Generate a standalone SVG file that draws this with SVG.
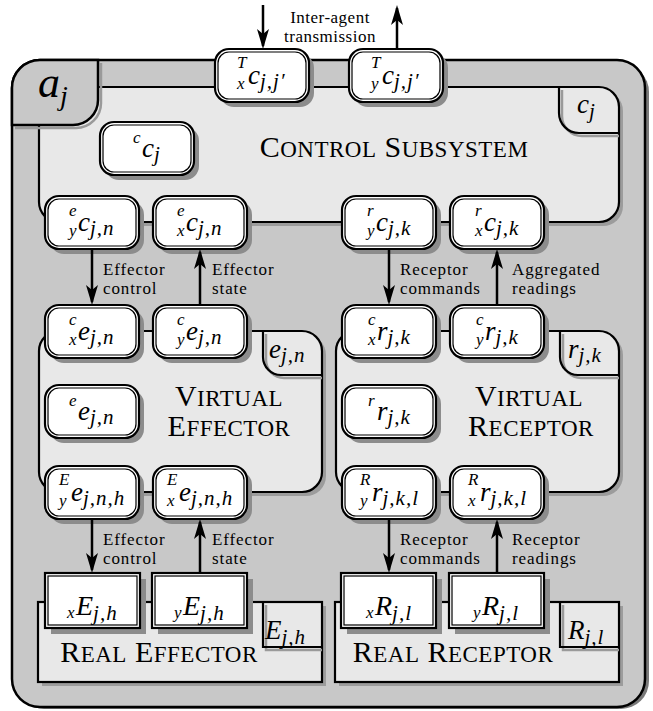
<svg xmlns="http://www.w3.org/2000/svg" xmlns:xlink="http://www.w3.org/1999/xlink" width="653" height="711" viewBox="0 0 653 711">
<style>
.outer{fill:#c8c8c8;stroke:#000;stroke-width:2.5}
.box{fill:#e8e8e8;stroke:#000;stroke-width:2.2}
.tab{fill:none;stroke:#000;stroke-width:2.2}
.tabs{fill:none;stroke:#9a9a9a;stroke-width:2.5}
.bshd{fill:#9c9c9c}
.shd{fill:#8c8c8c}
.no{fill:#fff;stroke:#000;stroke-width:2.2}
.ni{fill:#fff;stroke:#000;stroke-width:1.2}
.m{font-family:"Liberation Serif",serif;font-style:italic;font-size:27px;fill:#000}
.s{font-size:21px;letter-spacing:1px}
.p{font-size:17px;letter-spacing:0}
.lbl{font-family:"Liberation Serif",serif;font-size:17px;fill:#000;letter-spacing:0.9px}
.big{font-family:"Liberation Serif",serif;font-size:30px;fill:#000;letter-spacing:0.5px}
.sc{font-size:23px}
.arr{stroke:#000;stroke-width:2.5;fill:none;marker-end:url(#ah)}
</style>
<defs>
<marker id="ah" viewBox="0 0 20 12" refX="17" refY="6" markerWidth="20" markerHeight="12" markerUnits="userSpaceOnUse" orient="auto">
<path d="M0,0 L20,6 L0,12 L5,6 Z" fill="#000"/>
</marker>
<g id="rnode">
<rect x="5" y="5" width="94" height="53" rx="14" class="shd"/>
<rect width="94" height="53" rx="14" class="no"/>
<rect x="3" y="3" width="88" height="47" rx="11" class="ni"/>
</g>
<g id="snode">
<rect x="6" y="6" width="95" height="55" class="shd"/>
<rect width="95" height="55" class="no"/>
<rect x="3" y="3" width="89" height="49" class="ni"/>
</g>
</defs>

<!-- Agent a_j -->
<g id="agent">
<rect x="16" y="64" width="633" height="645" rx="28" fill="#7a7a7a"/>
<rect x="12" y="60" width="633" height="647" rx="28" class="outer"/>
</g>

<!-- Control subsystem -->
<g id="control-subsystem">
<rect x="43" y="91" width="580" height="135" rx="20" class="bshd"/>
<rect x="39" y="87" width="580" height="135" rx="20" class="box"/>
<path d="M562,90 V116 A20,20 0 0 0 582,136 H619" class="tabs"/>
<path d="M559,87 V113 A20,20 0 0 0 579,133 H619" class="tab"/>
<text class="m" x="577" y="113">c<tspan class="s" dy="5">j</tspan></text>
<text class="big" x="394" y="157" text-anchor="middle">C<tspan class="sc">ONTROL</tspan> S<tspan class="sc">UBSYSTEM</tspan></text>
</g>

<!-- a_j tab -->
<g id="agent-tab">
<path d="M15,128 H76 A25,25 0 0 0 101,103 V63" class="tabs"/>
<path d="M12,125 H73 A25,25 0 0 0 98,100 V60 H40 A28,28 0 0 0 12,88 Z" class="outer"/>
<text class="m" x="38" y="97" style="font-size:44px">a<tspan style="font-size:28px" dy="8">j</tspan></text>
</g>

<!-- Virtual effector -->
<g id="virtual-effector">
<rect x="43" y="335" width="283" height="161" rx="20" class="bshd"/>
<rect x="39" y="331" width="283" height="161" rx="20" class="box"/>
<path d="M266,334 V360 A18,18 0 0 0 284,378 H322" class="tabs"/>
<path d="M263,331 V357 A18,18 0 0 0 281,375 H322" class="tab"/>
<text class="m" x="269" y="358">e<tspan class="s" dy="4">j,n</tspan></text>
<text class="big" text-anchor="middle"><tspan x="229" y="406">V<tspan class="sc">IRTUAL</tspan></tspan><tspan x="229" y="436">E<tspan class="sc">FFECTOR</tspan></tspan></text>
</g>

<!-- Virtual receptor -->
<g id="virtual-receptor">
<rect x="340" y="335" width="283" height="161" rx="20" class="bshd"/>
<rect x="336" y="331" width="283" height="161" rx="20" class="box"/>
<path d="M563,334 V360 A18,18 0 0 0 581,378 H619" class="tabs"/>
<path d="M560,331 V357 A18,18 0 0 0 578,375 H619" class="tab"/>
<text class="m" x="568" y="358">r<tspan class="s" dy="4">j,k</tspan></text>
<text class="big" text-anchor="middle"><tspan x="529" y="406">V<tspan class="sc">IRTUAL</tspan></tspan><tspan x="531" y="436">R<tspan class="sc">ECEPTOR</tspan></tspan></text>
</g>

<!-- Real effector -->
<g id="real-effector">
<rect x="42" y="606" width="284" height="80" class="bshd"/>
<rect x="38" y="602" width="284" height="80" class="box"/>
<path d="M266,605 V650 H322" class="tabs"/>
<path d="M263,602 V647 H322" class="tab"/>
<text class="m" x="265" y="639">E<tspan class="s" dy="5">j,h</tspan></text>
<text class="big" x="159" y="662" text-anchor="middle">R<tspan class="sc">EAL</tspan> E<tspan class="sc">FFECTOR</tspan></text>
</g>

<!-- Real receptor -->
<g id="real-receptor">
<rect x="339" y="606" width="284" height="80" class="bshd"/>
<rect x="335" y="602" width="284" height="80" class="box"/>
<path d="M563,605 V650 H619" class="tabs"/>
<path d="M560,602 V647 H619" class="tab"/>
<text class="m" x="568" y="639">R<tspan class="s" dy="5">j,l</tspan></text>
<text class="big" x="453" y="662" text-anchor="middle">R<tspan class="sc">EAL</tspan> R<tspan class="sc">ECEPTOR</tspan></text>
</g>

<!-- Nodes -->
<g id="n-Txc"><use xlink:href="#rnode" x="215" y="49"/>
<text class="m"><tspan class="p" x="237" y="67.5">T</tspan><tspan class="p" x="237" y="89">x</tspan><tspan x="248" y="84">c</tspan><tspan class="s" dy="4">j,j′</tspan></text></g>

<g id="n-Tyc"><use xlink:href="#rnode" x="349" y="49"/>
<text class="m"><tspan class="p" x="371" y="67.5">T</tspan><tspan class="p" x="371" y="89">y</tspan><tspan x="382" y="84">c</tspan><tspan class="s" dy="4">j,j′</tspan></text></g>

<g id="n-cc"><use xlink:href="#rnode" x="100" y="122"/>
<text class="m"><tspan class="p" x="133" y="142.5">c</tspan><tspan x="142" y="156.5">c</tspan><tspan class="s" dy="4">j</tspan></text></g>

<g id="n-eyc"><use xlink:href="#rnode" x="45" y="196"/>
<text class="m"><tspan class="p" x="69" y="215.5">e</tspan><tspan class="p" x="69" y="235.5">y</tspan><tspan x="78" y="230.5">c</tspan><tspan class="s" dy="4">j,n</tspan></text></g>

<g id="n-exc"><use xlink:href="#rnode" x="153" y="196"/>
<text class="m"><tspan class="p" x="177" y="215.5">e</tspan><tspan class="p" x="177" y="235.5">x</tspan><tspan x="186" y="230.5">c</tspan><tspan class="s" dy="4">j,n</tspan></text></g>

<g id="n-ryc"><use xlink:href="#rnode" x="342" y="196"/>
<text class="m"><tspan class="p" x="367" y="215.5">r</tspan><tspan class="p" x="367" y="235.5">y</tspan><tspan x="376" y="230.5">c</tspan><tspan class="s" dy="4">j,k</tspan></text></g>

<g id="n-rxc"><use xlink:href="#rnode" x="450" y="196"/>
<text class="m"><tspan class="p" x="475" y="215.5">r</tspan><tspan class="p" x="475" y="235.5">x</tspan><tspan x="484" y="230.5">c</tspan><tspan class="s" dy="4">j,k</tspan></text></g>

<g id="n-cxe"><use xlink:href="#rnode" x="45" y="305"/>
<text class="m"><tspan class="p" x="69" y="324.5">c</tspan><tspan class="p" x="69" y="344.5">x</tspan><tspan x="78" y="339.5">e</tspan><tspan class="s" dy="4">j,n</tspan></text></g>

<g id="n-cye"><use xlink:href="#rnode" x="153" y="305"/>
<text class="m"><tspan class="p" x="177" y="324.5">c</tspan><tspan class="p" x="177" y="344.5">y</tspan><tspan x="186" y="339.5">e</tspan><tspan class="s" dy="4">j,n</tspan></text></g>

<g id="n-cxr"><use xlink:href="#rnode" x="342" y="305"/>
<text class="m"><tspan class="p" x="368" y="324.5">c</tspan><tspan class="p" x="368" y="344.5">x</tspan><tspan x="377" y="339.5">r</tspan><tspan class="s" dy="4">j,k</tspan></text></g>

<g id="n-cyr"><use xlink:href="#rnode" x="450" y="305"/>
<text class="m"><tspan class="p" x="476" y="324.5">c</tspan><tspan class="p" x="476" y="344.5">y</tspan><tspan x="485" y="339.5">r</tspan><tspan class="s" dy="4">j,k</tspan></text></g>

<g id="n-ee"><use xlink:href="#rnode" x="45" y="385"/>
<text class="m"><tspan class="p" x="69" y="405.5">e</tspan><tspan x="78" y="419.5">e</tspan><tspan class="s" dy="4">j,n</tspan></text></g>

<g id="n-rr"><use xlink:href="#rnode" x="342" y="385"/>
<text class="m"><tspan class="p" x="368" y="405.5">r</tspan><tspan x="377" y="419.5">r</tspan><tspan class="s" dy="4">j,k</tspan></text></g>

<g id="n-Eye"><use xlink:href="#rnode" x="45" y="466"/>
<text class="m"><tspan class="p" x="59" y="484.5">E</tspan><tspan class="p" x="59" y="506">y</tspan><tspan x="71" y="500.5">e</tspan><tspan class="s" dy="4">j,n,h</tspan></text></g>

<g id="n-Exe"><use xlink:href="#rnode" x="153" y="466"/>
<text class="m"><tspan class="p" x="167" y="484.5">E</tspan><tspan class="p" x="167" y="506">x</tspan><tspan x="179" y="500.5">e</tspan><tspan class="s" dy="4">j,n,h</tspan></text></g>

<g id="n-Ryr"><use xlink:href="#rnode" x="342" y="466"/>
<text class="m"><tspan class="p" x="360" y="484.5">R</tspan><tspan class="p" x="360" y="506">y</tspan><tspan x="372" y="500.5">r</tspan><tspan class="s" dy="4">j,k,l</tspan></text></g>

<g id="n-Rxr"><use xlink:href="#rnode" x="450" y="466"/>
<text class="m"><tspan class="p" x="468" y="484.5">R</tspan><tspan class="p" x="468" y="506">x</tspan><tspan x="480" y="500.5">r</tspan><tspan class="s" dy="4">j,k,l</tspan></text></g>

<g id="n-xE"><use xlink:href="#snode" x="45" y="573"/>
<text class="m" style="font-size:28px"><tspan class="p" x="67" y="618">x</tspan><tspan x="76" y="615">E</tspan><tspan class="s" dy="5">j,h</tspan></text></g>

<g id="n-yE"><use xlink:href="#snode" x="152" y="573"/>
<text class="m" style="font-size:28px"><tspan class="p" x="174" y="618">y</tspan><tspan x="183" y="615">E</tspan><tspan class="s" dy="5">j,h</tspan></text></g>

<g id="n-xR"><use xlink:href="#snode" x="341" y="573"/>
<text class="m" style="font-size:28px"><tspan class="p" x="366" y="618">x</tspan><tspan x="375" y="615">R</tspan><tspan class="s" dy="5">j,l</tspan></text></g>

<g id="n-yR"><use xlink:href="#snode" x="449" y="573"/>
<text class="m" style="font-size:28px"><tspan class="p" x="473" y="618">y</tspan><tspan x="482" y="615">R</tspan><tspan class="s" dy="5">j,l</tspan></text></g>

<!-- Connectors -->
<g id="connectors">
<path class="arr" d="M263,5 V46"/>
<path class="arr" d="M397,49 V8"/>
<path class="arr" d="M92,249 V302"/>
<path class="arr" d="M200,305 V252"/>
<path class="arr" d="M389,249 V302"/>
<path class="arr" d="M497,305 V252"/>
<path class="arr" d="M92,519 V570"/>
<path class="arr" d="M200,573 V522"/>
<path class="arr" d="M389,519 V570"/>
<path class="arr" d="M497,573 V522"/>
<text class="lbl" text-anchor="middle" style="letter-spacing:0.5px"><tspan x="330" y="23">Inter-agent</tspan><tspan x="330" y="42">transmission</tspan></text>
<text class="lbl"><tspan x="103" y="275">Effector</tspan><tspan x="103" y="294">control</tspan></text>
<text class="lbl"><tspan x="212" y="275">Effector</tspan><tspan x="212" y="294">state</tspan></text>
<text class="lbl"><tspan x="400" y="275">Receptor</tspan><tspan x="400" y="294">commands</tspan></text>
<text class="lbl"><tspan x="512" y="275">Aggregated</tspan><tspan x="512" y="294">readings</tspan></text>
<text class="lbl"><tspan x="103" y="545">Effector</tspan><tspan x="103" y="564">control</tspan></text>
<text class="lbl"><tspan x="212" y="545">Effector</tspan><tspan x="212" y="564">state</tspan></text>
<text class="lbl"><tspan x="400" y="545">Receptor</tspan><tspan x="400" y="564">commands</tspan></text>
<text class="lbl"><tspan x="512" y="545">Receptor</tspan><tspan x="512" y="564">readings</tspan></text>
</g>
</svg>
